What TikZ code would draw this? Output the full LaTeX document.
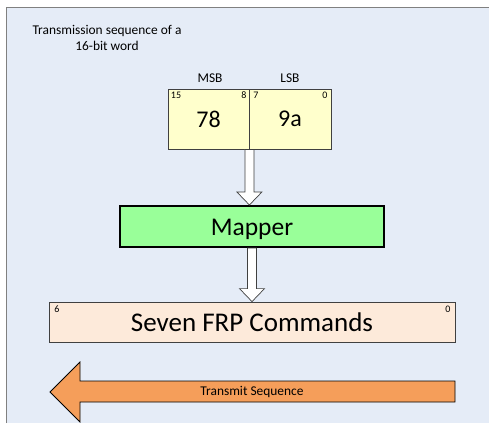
\documentclass[tikz,border=0pt]{standalone}
\usepackage{fontspec}
\setmainfont{Carlito}
\usetikzlibrary{calc}
\definecolor{panelfill}{RGB}{229,236,247}
\definecolor{bytefill}{RGB}{255,255,204}
\definecolor{mapfill}{RGB}{153,255,153}
\definecolor{frpfill}{RGB}{253,234,218}
\definecolor{txfill}{RGB}{245,158,90}
\definecolor{edge}{RGB}{64,64,64}
\tikzset{
  bytebox/.style={draw=edge, line width=0.8pt, fill=bytefill, minimum height=60pt,
    inner sep=0pt, font=\fontsize{24}{24}\selectfont},
  small/.style={font=\fontsize{13.4}{16}\selectfont, inner sep=0pt},
  bitnum/.style={font=\fontsize{10}{10}\selectfont, inner sep=0pt},
  blockarrow/.style={draw=edge, line width=0.7pt, fill=white, line join=miter},
}
% downward block arrow from the first point to the second (tip)
\newcommand{\blockdown}[2]{%
  \draw[blockarrow] let \p1=(#1), \p2=(#2) in
    (\x1-4.5pt,\y1) -- (\x1-4.5pt,\y2+13pt) -- (\x1-12.5pt,\y2+13pt) --
    (\x1,\y2) -- (\x1+12.5pt,\y2+13pt) -- (\x1+4.5pt,\y2+13pt) --
    (\x1+4.5pt,\y1) -- cycle;}
\begin{document}
\begin{tikzpicture}[x=1pt,y=-1pt]
\useasboundingbox (0,0) rectangle (489,423);
% background panel
\fill[panelfill] (6,7) rectangle (489,423);
\draw[gray, line width=0.8pt] (6,423) -- (6,7) -- (489,7);

% caption
\node[small, align=center] (title) at (107,38) {Transmission sequence of a\\16-bit word};

% the two bytes of the word
\node[bytebox, minimum width=81pt] (msb) at (208.5,119) {78};
\node[bytebox, minimum width=82pt] (lsb) at (290,119) {9a};
\node[small] (msblbl) at (210,78) {MSB};
\node[small] (lsblbl) at (290,78) {LSB};
\node[bitnum] (b15) at (176,95.5) {15};
\node[bitnum] (b8) at (244,95.5) {8};
\node[bitnum] (b7) at (256,95.5) {7};
\node[bitnum] (b0) at (325,95.5) {0};

% mapper
\node[draw=black, line width=2pt, fill=mapfill, minimum width=264pt, minimum height=41pt,
      inner sep=0pt] (mapper) at (252,226.5) {};
\node[inner sep=0pt, text height=18pt, text depth=0pt,
      font=\fontsize{25.5}{25.5}\selectfont] (maplbl) at (252,226.5) {Mapper};

% command block
\node[draw=edge, line width=0.8pt, fill=frpfill, minimum width=406pt, minimum height=40pt,
      inner sep=0pt, font=\fontsize{27}{27}\selectfont] (frp) at (252,322) {Seven FRP Commands};
\node[bitnum] (f6) at (57,309) {6};
\node[bitnum] (f0) at (448,309) {0};

% flow arrows
\blockdown{msb.south east}{mapper.north}
\blockdown{mapper.south}{frp.north}

% transmit direction arrow
\draw[draw=black, line width=0.8pt, fill=txfill, line join=miter]
  (455,381) -- (80,381) -- (80,362) -- (50,392) -- (80,422) -- (80,402) -- (455,402) -- cycle;
\node[small] (tx) at (252,392) {Transmit Sequence};
\end{tikzpicture}
\end{document}
